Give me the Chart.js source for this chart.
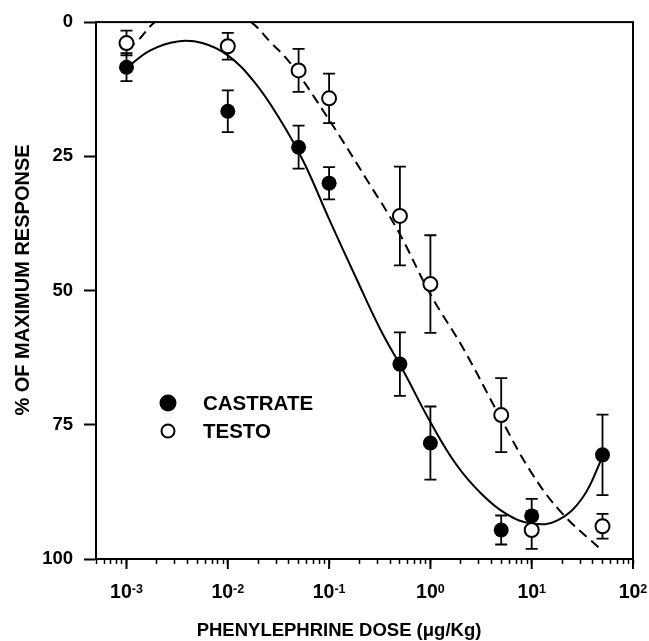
<!DOCTYPE html>
<html>
<head>
<meta charset="utf-8">
<script src="https://cdn.jsdelivr.net/npm/chart.js@4.4.1/dist/chart.umd.min.js"></script>
<style>
html,body{margin:0;padding:0;background:#fff;}
#wrap{width:649px;height:641px;position:relative;}
</style>
</head>
<body>
<div id="wrap"><canvas id="c" width="649" height="641"></canvas></div>
<script>
// ---- data ----
const doses = [0.001, 0.01, 0.05, 0.1, 0.5, 1, 5, 10, 50];
const castrateMean = [8.4, 16.6, 23.3, 30.0, 63.7, 78.4, 94.6, 92.0, 80.6];
const castrateSem  = [2.6, 3.9, 4.0, 3.0, 5.9, 6.8, 2.7, 3.2, 7.5];
const testoMean    = [3.9, 4.5, 9.0, 14.2, 36.1, 48.8, 73.2, 94.6, 93.9];
const testoSem     = [2.3, 2.5, 4.0, 4.6, 9.2, 9.1, 6.9, 3.5, 2.3];

const castrateFitDose = [0.001, 0.0017, 0.0032, 0.0056, 0.01, 0.018, 0.032, 0.056, 0.1, 0.18, 0.32, 0.56, 1, 1.8, 3.2, 5.6, 10, 18, 32, 50];
const castrateFit     = [8.6, 5.3, 3.6, 3.9, 6.2, 11.0, 17.8, 26.0, 36.7, 47.2, 57.2, 65.5, 74.5, 82.4, 87.9, 91.6, 93.4, 92.8, 88.5, 81.0];
const testoFitDose    = [0.001, 0.0013, 0.0019, 0.0032, 0.0056, 0.01, 0.017, 0.026, 0.042, 0.1, 0.24, 0.48, 1, 2.1, 4.7, 10, 20, 50];
const testoFit        = [5.0, 3.4, 0.0, -2.5, -3.5, -2.4, 0.0, 3.6, 7.8, 18.2, 29.6, 38.9, 50.7, 60.7, 73.0, 84.0, 91.5, 98.5];

const xTickPowers = [-3, -2, -1, 0, 1, 2];
const yTickStep = 25;
const seriesLabels = ['CASTRATE', 'TESTO'];
const xTitle = 'PHENYLEPHRINE DOSE (\u03BCg/Kg)';
const yTitle = '% OF MAXIMUM RESPONSE';

// ---- chart ----
const FONT = '"Liberation Sans", Arial, Helvetica, sans-serif';
Chart.defaults.font.family = FONT;
Chart.defaults.color = '#000';

const pts = (xs, ys) => xs.map((x, i) => ({x: x, y: ys[i]}));

const errorBars = {
  id: 'errorBars',
  beforeDatasetDraw(chart, args) {
    if (args.index !== 1) return;
    const {ctx, scales: {x, y}} = chart;
    ctx.save();
    ctx.strokeStyle = '#000';
    ctx.lineWidth = 1.8;
    const draw = (means, sems) => {
      doses.forEach((d, i) => {
        const px = x.getPixelForValue(d);
        const y1 = y.getPixelForValue(means[i] - sems[i]);
        const y2 = y.getPixelForValue(means[i] + sems[i]);
        ctx.beginPath();
        ctx.moveTo(px, y1); ctx.lineTo(px, y2);
        ctx.moveTo(px - 6, y1); ctx.lineTo(px + 6, y1);
        ctx.moveTo(px - 6, y2); ctx.lineTo(px + 6, y2);
        ctx.stroke();
      });
    };
    draw(castrateMean, castrateSem);
    draw(testoMean, testoSem);
    ctx.restore();
  }
};

const decorations = {
  id: 'decorations',
  afterDraw(chart) {
    const {ctx, chartArea: a, scales: {x}} = chart;
    ctx.save();
    // frame
    ctx.strokeStyle = '#000';
    ctx.lineWidth = 2;
    ctx.strokeRect(a.left, a.top, a.right - a.left, a.bottom - a.top);
    // major x ticks + labels
    ctx.fillStyle = '#000';
    xTickPowers.forEach(p => {
      const px = x.getPixelForValue(Math.pow(10, p));
      ctx.beginPath();
      ctx.moveTo(px, a.bottom); ctx.lineTo(px, a.bottom + 10);
      ctx.stroke();
      const base = '10', ex = String(p);
      ctx.font = 'bold 19.5px ' + FONT;
      const wb = ctx.measureText(base).width;
      ctx.font = 'bold 12.5px ' + FONT;
      const we = ctx.measureText(ex).width;
      const start = px - (wb + we) / 2;
      ctx.textAlign = 'left';
      ctx.textBaseline = 'alphabetic';
      ctx.font = 'bold 19.5px ' + FONT;
      ctx.fillText(base, start, 598);
      ctx.font = 'bold 12.5px ' + FONT;
      ctx.fillText(ex, start + wb, 593);
    });
    // axis titles
    ctx.font = 'bold 18.5px ' + FONT;
    ctx.textAlign = 'center';
    ctx.textBaseline = 'middle';
    ctx.fillText(xTitle, 339, 631);
    ctx.save();
    ctx.translate(23, 280);
    ctx.rotate(-Math.PI / 2);
    ctx.font = 'bold 20px ' + FONT;
    ctx.fillText(yTitle, 0, 0);
    ctx.restore();
    // legend
    const rows = [
      {label: seriesLabels[0], fill: '#000', y: 403},
      {label: seriesLabels[1], fill: '#fff', y: 431}
    ];
    rows.forEach(r => {
      ctx.beginPath();
      ctx.arc(168, r.y, r.fill === '#000' ? 7.5 : 6.5, 0, Math.PI * 2);
      ctx.fillStyle = r.fill;
      ctx.fill();
      ctx.lineWidth = 2;
      ctx.strokeStyle = '#000';
      ctx.stroke();
      ctx.fillStyle = '#000';
      ctx.font = 'bold 20.5px ' + FONT;
      ctx.textAlign = 'left';
      ctx.textBaseline = 'middle';
      ctx.fillText(r.label, 203, r.y + 1);
    });
    ctx.restore();
  }
};

new Chart(document.getElementById('c'), {
  type: 'scatter',
  data: {
    datasets: [
      {
        label: seriesLabels[1],
        data: pts(doses, testoMean),
        showLine: false,
        pointRadius: 7,
        pointBackgroundColor: '#fff',
        pointBorderColor: '#000',
        pointBorderWidth: 2
      },
      {
        label: seriesLabels[0],
        data: pts(doses, castrateMean),
        showLine: false,
        pointRadius: 7.5,
        pointBackgroundColor: '#000',
        pointBorderColor: '#000',
        pointBorderWidth: 0
      },
      {
        label: 'castrate fit',
        data: pts(castrateFitDose, castrateFit),
        showLine: true,
        pointRadius: 0,
        borderColor: '#000',
        borderWidth: 2,
        tension: 0.4
      },
      {
        label: 'testo fit',
        data: pts(testoFitDose, testoFit),
        showLine: true,
        pointRadius: 0,
        borderColor: '#000',
        borderWidth: 2,
        borderDash: [10, 6],
        tension: 0.4
      }
    ]
  },
  options: {
    responsive: false,
    animation: false,
    devicePixelRatio: 1,
    layout: {padding: {top: 21, right: 16, left: 0, bottom: 0}},
    plugins: {legend: {display: false}, tooltip: {enabled: false}},
    scales: {
      x: {
        type: 'logarithmic',
        min: 0.0005,
        max: 100,
        afterBuildTicks(scale) {
          const t = [];
          for (let p = -4; p <= 2; p++) {
            for (let k = 1; k <= 9; k++) {
              const v = k * Math.pow(10, p);
              if (v >= 0.0005 && v <= 100.0001) t.push({value: v});
            }
          }
          scale.ticks = t;
        },
        afterFit(scale) { scale.height = 82; },
        ticks: {display: false},
        grid: {drawOnChartArea: false, drawTicks: true, tickLength: 5, tickColor: '#000', tickWidth: 1.5},
        border: {display: true, color: '#000', width: 2}
      },
      y: {
        type: 'linear',
        reverse: true,
        min: 0,
        max: 100,
        afterFit(scale) { scale.width = 96; },
        ticks: {stepSize: yTickStep, color: '#000', padding: 11, font: {size: 18.5, weight: 'bold'}},
        grid: {drawOnChartArea: false, drawTicks: true, tickLength: 12, tickColor: '#000', tickWidth: 2},
        border: {display: true, color: '#000', width: 2}
      }
    }
  },
  plugins: [errorBars, decorations]
});
</script>
</body>
</html>
